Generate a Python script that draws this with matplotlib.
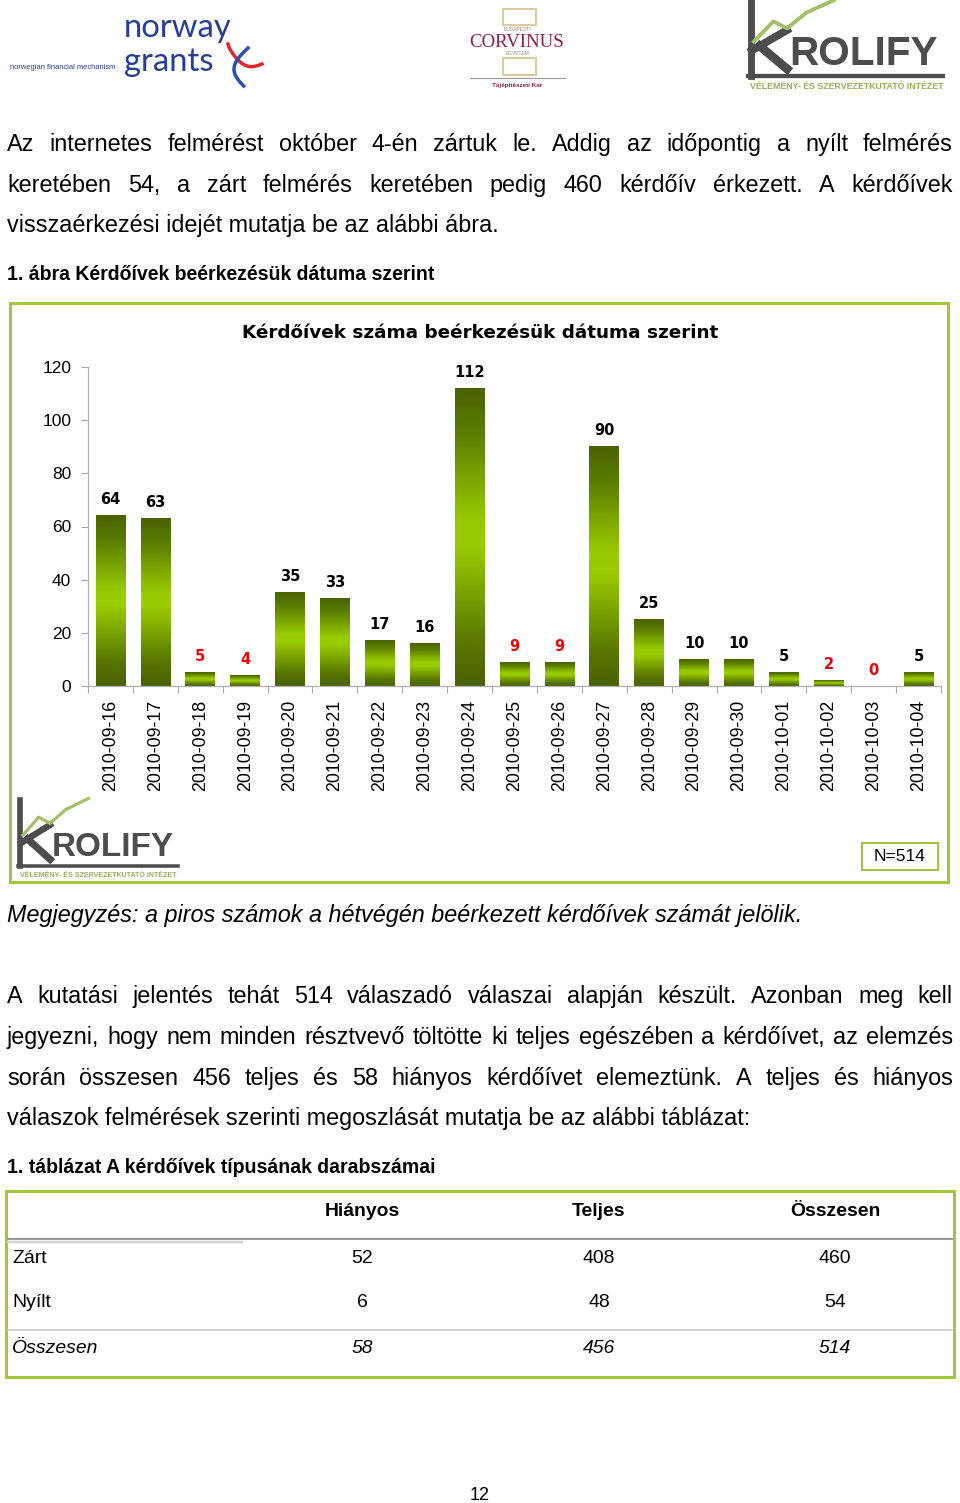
import numpy as np
import pandas as pd
import matplotlib
matplotlib.use('Agg')
import matplotlib.pyplot as plt
from matplotlib.colors import LinearSegmentedColormap
from matplotlib.patches import Rectangle
from matplotlib.lines import Line2D

# ---------------- data ----------------
dates = ['2010-09-16', '2010-09-17', '2010-09-18', '2010-09-19', '2010-09-20',
         '2010-09-21', '2010-09-22', '2010-09-23', '2010-09-24', '2010-09-25',
         '2010-09-26', '2010-09-27', '2010-09-28', '2010-09-29', '2010-09-30',
         '2010-10-01', '2010-10-02', '2010-10-03', '2010-10-04']
counts = [64, 63, 5, 4, 35, 33, 17, 16, 112, 9, 9, 90, 25, 10, 10, 5, 2, 0, 5]
y_ticks = [0, 20, 40, 60, 80, 100, 120]

table_cols = ['Hiányos', 'Teljes', 'Összesen']
table_rows = ['Zárt', 'Nyílt', 'Összesen']
zart_vals = [52, 408, 460]
nyilt_vals = [6, 48, 54]
osszes_vals = [58, 456, 514]

para1 = ["Az internetes felmérést október 4-én zártuk le. Addig az időpontig a nyílt felmérés",
         "keretében 54, a zárt felmérés keretében pedig 460 kérdőív érkezett. A kérdőívek",
         "visszaérkezési idejét mutatja be az alábbi ábra."]
para2 = ["A kutatási jelentés tehát 514 válaszadó válaszai alapján készült. Azonban meg kell",
         "jegyezni, hogy nem minden résztvevő töltötte ki teljes egészében a kérdőívet, az elemzés",
         "során összesen 456 teljes és 58 hiányos kérdőívet elemeztünk. A teljes és hiányos",
         "válaszok felmérések szerinti megoszlását mutatja be az alábbi táblázat:"]
fig_caption = "1. ábra Kérdőívek beérkezésük dátuma szerint"
chart_title = "Kérdőívek száma beérkezésük dátuma szerint"
note = "Megjegyzés: a piros számok a hétvégén beérkezett kérdőívek számát jelölik."
tab_caption = "1. táblázat A kérdőívek típusának darabszámai"
n_label = "N=514"
page_no = "12"

weekend = pd.to_datetime(dates).dayofweek >= 5

# ---------------- figure ----------------
W, H = 960, 1503
fig = plt.figure(figsize=(W / 100, H / 100), dpi=100)
fig.patch.set_facecolor('white')
renderer = fig.canvas.get_renderer()
SANS = 'Liberation Sans'
GREEN = '#a2c63c'


def ptext(x, y, s, **kw):
    return fig.text(x / W, 1 - y / H, s, **kw)


def text_width(s, **kw):
    t = fig.text(0, 0, s, **kw)
    w = t.get_window_extent(renderer=renderer).width
    t.remove()
    return w


def fit_size(s, target, **kw):
    return 10 * target / text_width(s, fontsize=10, **kw)


def pline(x0, y0, x1, y1, color, lwpx, **kw):
    fig.add_artist(Line2D([x0 / W, x1 / W], [1 - y0 / H, 1 - y1 / H],
                          transform=fig.transFigure, color=color,
                          linewidth=lwpx * 0.72, **kw))


def prect(x0, y0, x1, y1, color, lwpx, fc='none'):
    fig.add_artist(Rectangle((x0 / W, 1 - y1 / H), (x1 - x0) / W, (y1 - y0) / H,
                             transform=fig.transFigure, facecolor=fc,
                             edgecolor=color, linewidth=lwpx * 0.72))


def justify(line, x0, x1, y, **kw):
    words = line.split()
    widths = [text_width(w, **kw) for w in words]
    gap = (x1 - x0 - sum(widths)) / (len(words) - 1)
    x = x0
    for w, wd in zip(words, widths):
        ptext(x, y, w, ha='left', va='baseline', **kw)
        x += wd + gap


# ---------------- logos ----------------
def draw_krolify(x0, y0, w, h):
    dark = '#4d4d4d'
    pline(x0 + 0.015 * w, y0, x0 + 0.015 * w, y0 + 0.84 * h, dark, 0.035 * w)
    pline(x0, y0 + 0.84 * h, x0 + w, y0 + 0.84 * h, dark, 0.022 * w)
    # K arms
    pline(x0 + 0.02 * w, y0 + 0.55 * h, x0 + 0.2 * w, y0 + 0.32 * h, dark, 0.04 * w)
    pline(x0 + 0.06 * w, y0 + 0.5 * h, x0 + 0.2 * w, y0 + 0.76 * h, dark, 0.045 * w)
    # green zigzag
    gx = np.array([0.03, 0.13, 0.2, 0.3, 0.44])
    gy = np.array([0.45, 0.22, 0.3, 0.12, -0.02])
    fig.add_artist(Line2D((x0 + gx * w) / W, 1 - (y0 + gy * h) / H,
                          transform=fig.transFigure, color='#a4bf6a',
                          linewidth=0.02 * w * 0.72))
    s = 'ROLIFY'
    fs = fit_size(s, 0.76 * w, family=SANS, fontweight='bold')
    ptext(x0 + 0.21 * w, y0 + 0.72 * h, s, family=SANS, fontweight='bold',
          fontsize=fs, color=dark, ha='left', va='baseline')
    sub = 'VÉLEMÉNY- ÉS SZERVEZETKUTATÓ INTÉZET'
    fs2 = fit_size(sub, 0.98 * w, family=SANS, fontweight='bold')
    ptext(x0 + 0.01 * w, y0 + 0.985 * h, sub, family=SANS, fontweight='bold',
          fontsize=fs2, color='#93b257', ha='left', va='baseline')


# Norway grants
blue = '#263e96'
fsn = fit_size('norway', 108, family='Lato')
ptext(124, 37, 'norway', family='Lato', fontsize=fsn, color=blue, ha='left', va='baseline')
ptext(124, 71, 'grants', family='Lato', fontsize=fsn, color=blue, ha='left', va='baseline')
fsm = fit_size('norwegian financial mechanism', 105, family=SANS)
ptext(10, 69, 'norwegian financial mechanism', family=SANS, fontsize=fsm, color=blue,
      ha='left', va='baseline')
t = np.linspace(0, 1, 40)
fig.add_artist(Line2D((228 + 34 * t) / W, 1 - (44 + 20 * t ** 0.6 + 8 * np.sin(np.pi * t)) / H,
                      transform=fig.transFigure, color='#e0262b', linewidth=2.5))
fig.add_artist(Line2D((248 - 14 * np.sin(np.pi * t * 0.9)) / W, 1 - (48 + 38 * t) / H,
                      transform=fig.transFigure, color='#2a4fb5', linewidth=2.5))

# Corvinus
maroon = '#8c1d4f'
prect(503, 9, 536, 25, '#dccba0', 2)
prect(503, 58, 536, 75, '#dccba0', 2)
fsc = fit_size('CORVINUS', 95, family='Liberation Serif')
ptext(517, 47, 'CORVINUS', family='Liberation Serif', fontsize=fsc, color=maroon,
      ha='center', va='baseline')
ptext(517, 31, 'BUDAPESTI', family=SANS, fontsize=3.5, color='#a08870', ha='center', va='baseline')
ptext(517, 55, 'EGYETEM', family=SANS, fontsize=3.5, color='#a08870', ha='center', va='baseline')
pline(470, 78, 565, 78, '#a0a0a0', 1.2)
ptext(517, 87, 'Tájépítészeti Kar', family=SANS, fontsize=4.5, fontweight='bold',
      color=maroon, ha='center', va='baseline')

draw_krolify(748, 2, 195, 88)

# ---------------- paragraphs ----------------
pfs = fit_size(para1[2], 490, family=SANS)
pkw = dict(family=SANS, fontsize=pfs, color='black')
justify(para1[0], 7, 953, 151, **pkw)
justify(para1[1], 7, 953, 192, **pkw)
ptext(7, 232, para1[2], ha='left', va='baseline', **pkw)

cfs = fit_size(fig_caption, 431, family=SANS, fontweight='bold')
ptext(7, 280, fig_caption, family=SANS, fontweight='bold', fontsize=cfs,
      ha='left', va='baseline')

# ---------------- chart ----------------
prect(10, 303, 948, 882, GREEN, 3)

tfs = fit_size(chart_title, 478, family='DejaVu Sans', fontweight='bold')
ptext(480, 338, chart_title, family='DejaVu Sans', fontweight='bold', fontsize=tfs,
      ha='center', va='baseline')

ax_l, ax_r, ax_t, ax_b = 88, 941, 367, 686
ax = fig.add_axes([ax_l / W, 1 - ax_b / H, (ax_r - ax_l) / W, (ax_b - ax_t) / H])
ax.set_facecolor('none')

x = np.arange(len(dates))
bars = ax.bar(x, counts, width=0.66, color='none', edgecolor='none', zorder=2)

cmap = LinearSegmentedColormap.from_list('barg', [
    (0.0, '#4a6200'), (0.14, '#587500'), (0.47, '#99cc00'), (0.56, '#97ca00'),
    (0.86, '#5a7a00'), (1.0, '#4a6400')])
grad = np.linspace(0, 1, 256).reshape(-1, 1)
for rect in bars:
    h = rect.get_height()
    if h <= 0:
        continue
    x0 = rect.get_x()
    ax.imshow(grad, extent=(x0, x0 + rect.get_width(), 0, h), origin='lower',
              cmap=cmap, aspect='auto', interpolation='bilinear', zorder=2)

for i, (v, wk) in enumerate(zip(counts, weekend)):
    ax.annotate(str(v), (x[i], v), xytext=(0, 11.5), textcoords='offset points',
                ha='center', va='center', fontsize=10.5, fontweight='bold',
                family='DejaVu Sans', color='#ee0000' if wk else 'black',
                annotation_clip=False)

ax.set_xlim(-0.5, len(dates) - 0.5)
ax.set_ylim(0, 120)
ax.set_yticks(y_ticks)
ax.set_yticklabels([str(v) for v in y_ticks], family=SANS, fontsize=12.5)
ax.set_xticks(x)
ax.set_xticklabels(dates, rotation=90, family=SANS, fontsize=12.8)
ax.set_xticks(np.arange(-0.5, len(dates), 1), minor=True)
ax.tick_params(axis='x', which='major', length=0, pad=10)
ax.tick_params(axis='x', which='minor', length=5, color='#a8a8a8', width=0.8)
ax.tick_params(axis='y', length=5, color='#a8a8a8', width=0.8, pad=7)
for s in ['top', 'right']:
    ax.spines[s].set_visible(False)
for s in ['left', 'bottom']:
    ax.spines[s].set_color('#b0b0b0')
    ax.spines[s].set_linewidth(0.9)

draw_krolify(18, 800, 160, 78)

prect(862, 843, 938, 870, GREEN, 2)
ptext(900, 861, n_label, family=SANS, fontsize=12.5, ha='center', va='baseline')

# ---------------- note & paragraph 2 ----------------
nfs = fit_size(note, 799, family=SANS, style='italic')
ptext(7, 922, note, family=SANS, style='italic', fontsize=nfs, ha='left', va='baseline')

justify(para2[0], 7, 953, 1003, **pkw)
justify(para2[1], 7, 953, 1044, **pkw)
justify(para2[2], 7, 953, 1085, **pkw)
ptext(7, 1125, para2[3], ha='left', va='baseline', **pkw)

ptext(7, 1173, tab_caption, family=SANS, fontweight='bold', fontsize=cfs,
      ha='left', va='baseline')

# ---------------- table ----------------
prect(6, 1191, 954, 1377, GREEN, 3)
col_x = [362, 599, 835]
hfs = fit_size(table_cols[0], 75, family=SANS, fontweight='bold')
for cx, c in zip(col_x, table_cols):
    ptext(cx, 1216, c, family=SANS, fontweight='bold', fontsize=hfs, ha='center', va='baseline')
pline(8, 1239, 952, 1239, '#9a9a9a', 2)
pline(8, 1241.5, 242, 1241.5, '#d4d4d4', 2.5)
pline(8, 1330, 952, 1330, '#c4c4c4', 1.5)

row_y = [1263, 1307, 1353]
row_vals = [zart_vals, nyilt_vals, osszes_vals]
for ri, (ry, name, vals) in enumerate(zip(row_y, table_rows, row_vals)):
    st = 'italic' if ri == 2 else 'normal'
    ptext(12, ry, name, family=SANS, fontsize=hfs, style=st, ha='left', va='baseline')
    for cx, v in zip(col_x, vals):
        ptext(cx, ry, str(v), family=SANS, fontsize=hfs, style=st, ha='center', va='baseline')

ptext(480, 1500, page_no, family=SANS, fontsize=13, ha='center', va='baseline')

fig.savefig('out.png', dpi=100, facecolor='white')
